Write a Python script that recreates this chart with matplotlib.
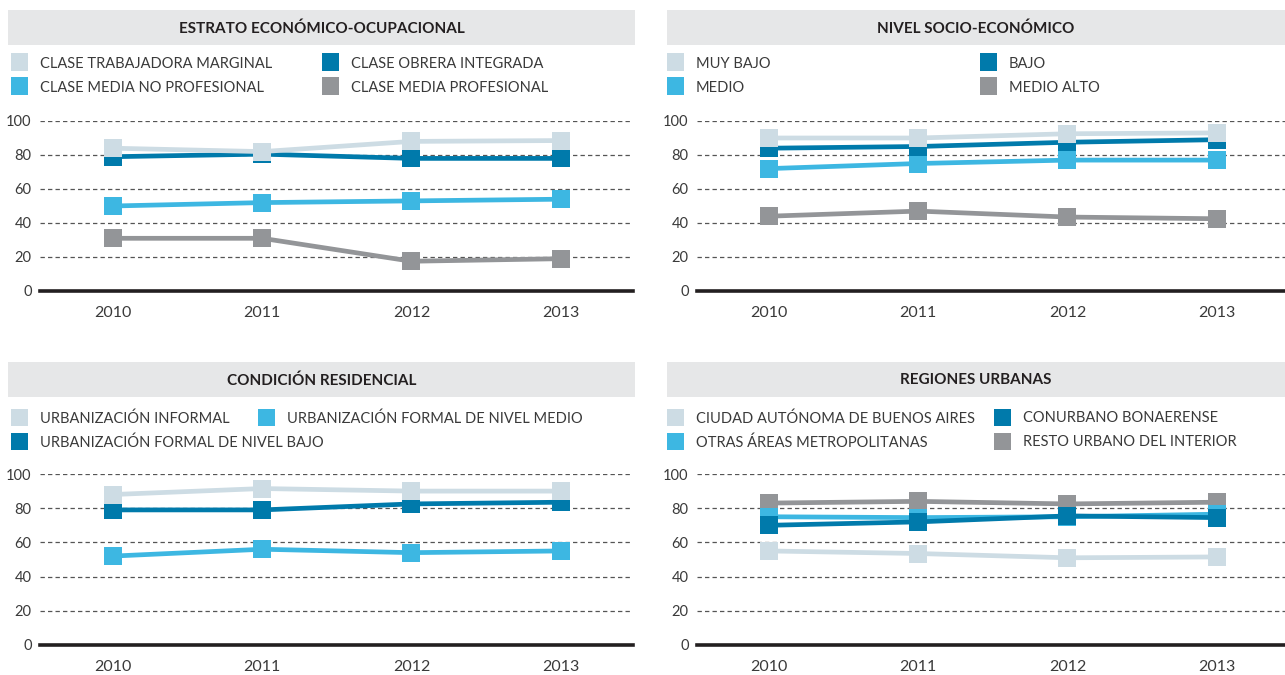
import matplotlib
matplotlib.use("Agg")
import matplotlib.pyplot as plt
from matplotlib.patches import Rectangle

# ── Data ──────────────────────────────────────────────────
years = ["2010", "2011", "2012", "2013"]

estrato_labels = ["CLASE TRABAJADORA MARGINAL", "CLASE OBRERA INTEGRADA",
                  "CLASE MEDIA NO PROFESIONAL", "CLASE MEDIA PROFESIONAL"]
estrato_values = [
    [84, 82, 88, 88.5],
    [79, 80.5, 78, 78],
    [50, 52, 53, 54],
    [31, 31, 17.5, 19],
]

nivel_labels = ["MUY BAJO", "BAJO", "MEDIO", "MEDIO ALTO"]
nivel_values = [
    [90, 90, 92.5, 93],
    [84, 85, 87.5, 89],
    [72, 75, 77, 77],
    [44, 47, 43.5, 42.5],
]

residencial_labels = ["URBANIZACIÓN INFORMAL", "URBANIZACIÓN FORMAL DE NIVEL BAJO",
                      "URBANIZACIÓN FORMAL DE NIVEL MEDIO"]
residencial_values = [
    [88, 91.5, 90, 90],
    [79, 79, 82.5, 83.5],
    [52, 56, 54, 55],
]

regiones_labels = ["CIUDAD AUTÓNOMA DE BUENOS AIRES", "CONURBANO BONAERENSE",
                   "OTRAS ÁREAS METROPOLITANAS", "RESTO URBANO DEL INTERIOR"]
regiones_values = [
    [55, 53.5, 51, 51.5],
    [70, 72, 75.5, 74.5],
    [75, 74.5, 75, 76.5],
    [83, 84, 82.5, 83.5],
]

yticks = [0, 20, 40, 60, 80, 100]

# ── Style ─────────────────────────────────────────────────
LIGHT = "#cddce4"
DARK = "#007aab"
SKY = "#3db7e2"
GRAY = "#939598"
BAR_BG = "#e6e7e8"
INK = "#231f20"

plt.rcParams["font.family"] = ["Lato", "DejaVu Sans"]

W, H = 1285, 675
fig = plt.figure(figsize=(W / 100, H / 100), dpi=100)
fig.patch.set_facecolor("white")


def px(x, y):
    # pixel coordinates (top-left origin) -> figure fraction
    return x / W, 1 - y / H


def panel(title, labels, values, colors, legend_pos, bar_x, bar_y, ax_x, ax_y):
    # title bar
    x0, y1 = px(bar_x[0], bar_y[1])
    x1, y0 = px(bar_x[1], bar_y[0])
    fig.patches.append(Rectangle((x0, y1), x1 - x0, y0 - y1, transform=fig.transFigure,
                                 facecolor=BAR_BG, edgecolor="none"))
    cx, cy = px((bar_x[0] + bar_x[1]) / 2, (bar_y[0] + bar_y[1]) / 2 + 1)
    fig.text(cx, cy, title, ha="center", va="center", fontsize=11,
             fontweight="bold", color=INK)

    # legend: colored square + label
    sq = 17
    for (lx, ly), lab, col in zip(legend_pos, labels, colors):
        sx, sy = px(lx, ly + sq / 2)
        fig.patches.append(Rectangle((sx, sy), sq / W, sq / H, transform=fig.transFigure,
                                     facecolor=col, edgecolor="none"))
        tx, ty = px(lx + 29, ly + 1.5)
        fig.text(tx, ty, lab, ha="left", va="center", fontsize=10.5, color="#3a3a3a")

    # chart area
    left, b = px(ax_x[0], ax_y[0])
    right, t = px(ax_x[1], ax_y[1])
    ax = fig.add_axes([left, b, right - left, t - b])
    x = list(range(len(years)))
    for i, (vals, col) in enumerate(zip(values, colors)):
        ax.plot(x, vals, color=col, linewidth=3.4, marker="s", markersize=12.5,
                markeredgewidth=0, solid_joinstyle="miter", zorder=10 - i, clip_on=False)

    for v in yticks[1:]:
        ax.axhline(v, color="#555555", linewidth=0.9, linestyle=(0, (3.5, 2.5)), zorder=1)
    ax.axhline(0, color=INK, linewidth=2.6, zorder=2, clip_on=False)

    ax.set_ylim(0, 100)
    span = ax_x[1] - ax_x[0]
    unit = 149.2
    x_first = ax_x[2]
    ax.set_xlim(-(x_first - ax_x[0]) / unit, -(x_first - ax_x[0]) / unit + span / unit)
    ax.set_xticks(x)
    ax.set_xticklabels(years, fontsize=11.5, color="#3a3a3a")
    ax.set_yticks(yticks)
    ax.set_yticklabels([str(v) for v in yticks], fontsize=10.5, color="#3a3a3a")
    ax.tick_params(axis="both", length=0)
    ax.tick_params(axis="x", pad=11)
    ax.tick_params(axis="y", pad=6)
    for s in ax.spines.values():
        s.set_visible(False)
    ax.set_facecolor("none")
    return ax


# Top left
panel("ESTRATO ECONÓMICO-OCUPACIONAL", estrato_labels, estrato_values,
      [LIGHT, DARK, SKY, GRAY],
      [(11, 62), (322, 62), (11, 86), (322, 86)],
      (8, 635), (10, 45), (40, 633, 113), (291, 121))

# Top right
panel("NIVEL SOCIO-ECONÓMICO", nivel_labels, nivel_values,
      [LIGHT, DARK, SKY, GRAY],
      [(667, 62), (980, 62), (667, 86), (980, 86)],
      (667, 1285), (10, 45), (697, 1285, 769), (291, 121))

# Bottom left
panel("CONDICIÓN RESIDENCIAL", residencial_labels, residencial_values,
      [LIGHT, DARK, SKY],
      [(11, 417), (11, 441), (258, 417)],
      (8, 635), (362, 397), (40, 633, 113), (645, 474))

# Bottom right
panel("REGIONES URBANAS", regiones_labels, regiones_values,
      [LIGHT, DARK, SKY, GRAY],
      [(667, 417), (994, 417), (667, 441), (994, 441)],
      (667, 1285), (362, 397), (697, 1285, 769), (645, 474))

fig.savefig("out.png", dpi=100, facecolor="white")
plt.close(fig)
